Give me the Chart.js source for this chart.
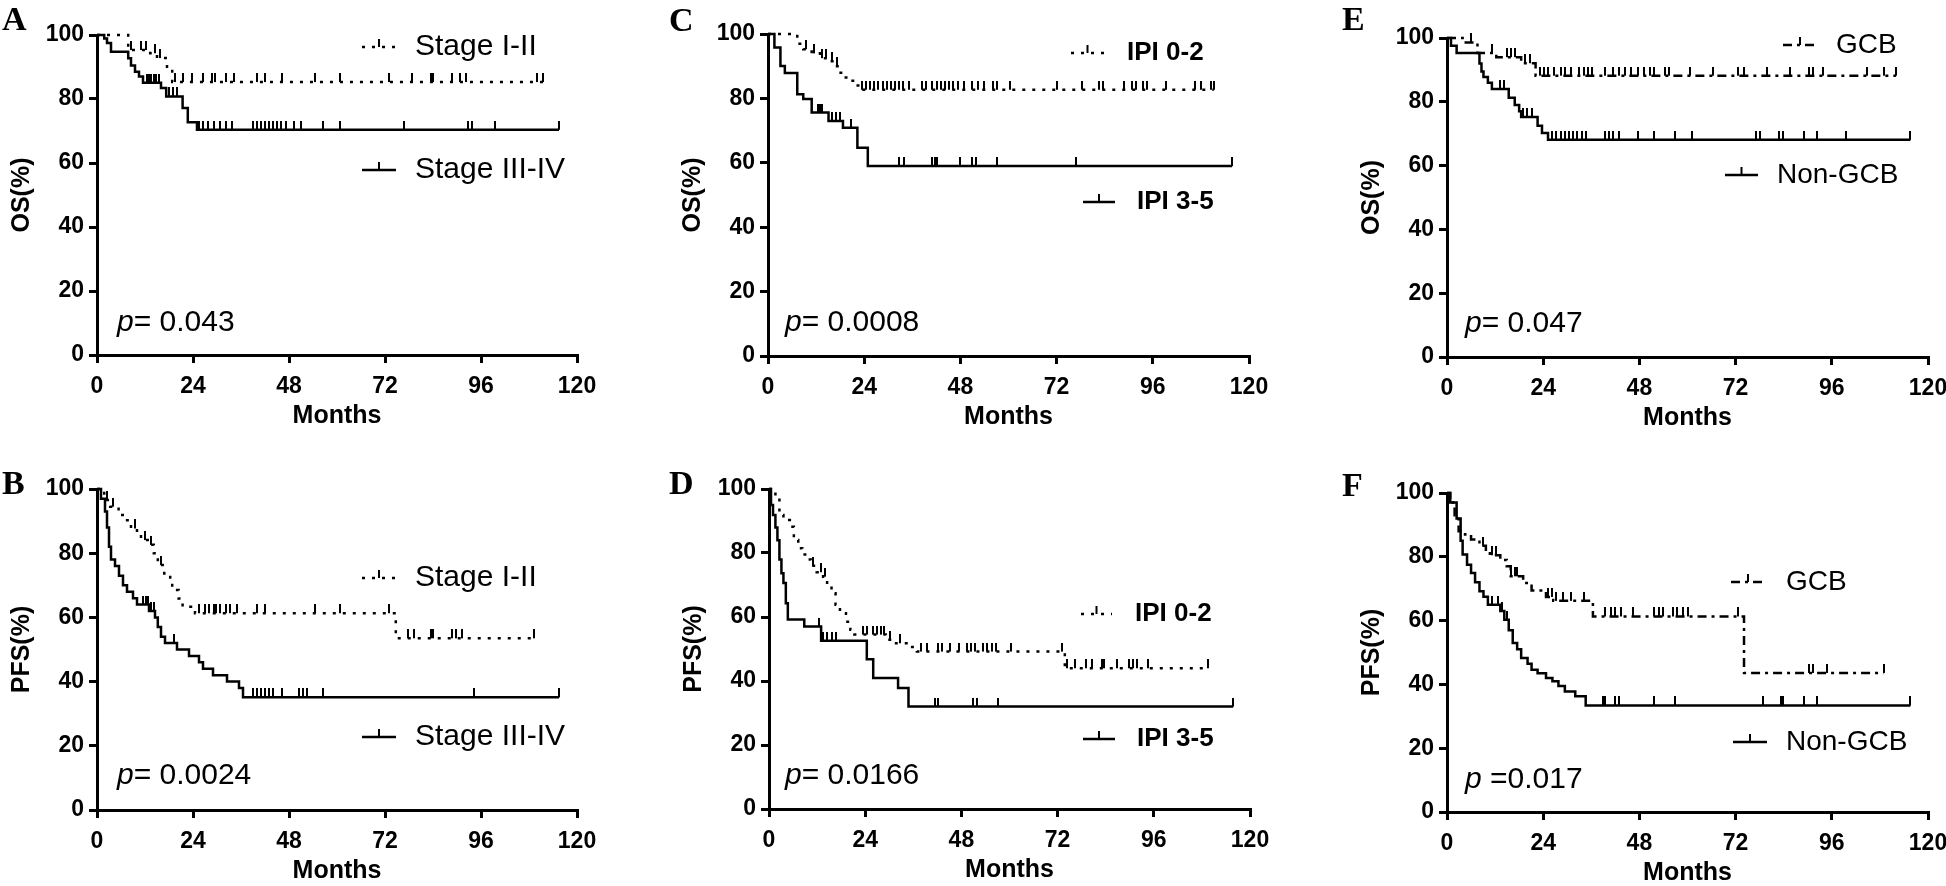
<!DOCTYPE html>
<html>
<head>
<meta charset="utf-8">
<script src="https://cdn.jsdelivr.net/npm/chart.js@4.4.1/dist/chart.umd.min.js"></script>
<style>
html, body { margin: 0; padding: 0; background: #fff; }
#fig { position: relative; width: 1946px; height: 886px; overflow: hidden; }
.cell { position: absolute; }
</style>
</head>
<body>
<div id="fig"></div>
<script>
// Axis ticks
const monthTicks = [0, 24, 48, 72, 96, 120];
const percentTicks = [0, 20, 40, 60, 80, 100];

// A: OS by stage (time in months, survival in %)
const osStageEarlyT = [0, 7.8, 13.3, 15, 17.5, 18.8, 111.5];
const osStageEarlyS = [100, 95.3, 94.3, 92.8, 89.6, 85.3, 85.3];
const osStageEarlyC = [8.5, 11, 12.2, 14.5, 15.8, 19.5, 21.4, 23.7, 26.6, 28.7, 29.5, 32.3, 34.3, 40, 42.1, 46.2, 54.5, 60.7, 73.1, 78.8, 83.5, 84, 88.7, 90.7, 92.3, 109.9, 111.4];
const osStageLateT = [0, 1.8, 2.5, 3.5, 7.8, 8.5, 9.5, 10.5, 11.5, 16, 17.3, 21.4, 22.7, 25, 115.5];
const osStageLateS = [100, 98.9, 97.5, 94.8, 92.7, 90.5, 88.5, 87, 85.1, 83.4, 80.8, 77.2, 72.7, 70.4, 70.4];
const osStageLateC = [12.5, 13, 13.6, 14.2, 14.8, 15.4, 18, 19, 20, 25.6, 26.6, 27.7, 29.2, 30.7, 32.3, 33.8, 39, 40, 41, 42, 43, 44, 45, 46, 47.2, 49.3, 50.9, 56.6, 60.7, 76.8, 92.8, 93.8, 99.5, 115.5];

// B: PFS by stage
const pfsStageEarlyT = [0, 1.8, 3.3, 5.4, 6.9, 8.5, 10, 11, 13.1, 14.2, 15.2, 16.8, 18.3, 18.8, 20.4, 21.4, 23.5, 24.5, 74.7, 109.3];
const pfsStageEarlyS = [100, 96.6, 94.5, 91.9, 90.3, 87.7, 85.7, 84.1, 82.6, 80, 76.3, 73.7, 71.7, 68.5, 65.9, 63.3, 62.3, 61.3, 53.5, 53.5];
const pfsStageEarlyC = [2.5, 4, 9.5, 12, 13.5, 16, 25.5, 27.1, 28.1, 29.2, 29.7, 30.7, 32.3, 33.3, 34.9, 40, 42.1, 54.5, 60.7, 73.1, 77.8, 79.3, 83.5, 84, 88.7, 89.7, 91.2, 109.3];
const pfsStageLateT = [0, 1, 2, 2.5, 3, 3.5, 4.5, 5.5, 6.5, 7.5, 9, 10, 13, 14.5, 15.2, 16, 17, 20, 23, 25.5, 26.5, 29, 32.5, 35.5, 36.5, 115.5];
const pfsStageLateS = [100, 97, 93, 88, 82, 78, 76, 73, 70, 68, 66, 64, 62, 60, 57, 54, 52, 50, 48, 46, 44, 42, 40, 38, 35.1, 35.1];
const pfsStageLateC = [11.5, 12.2, 12.8, 13.6, 14.2, 19.2, 39, 40, 41, 42, 43, 44, 46.2, 50.4, 51.5, 52.4, 56.6, 94.3, 115.5];

// C: OS by IPI
const osIpiLowT = [0, 7.3, 8.8, 10.9, 13, 15.1, 16.6, 17.7, 18.7, 20.3, 21.8, 22.9, 111.2];
const osIpiLowS = [100, 97, 95.3, 94, 92.5, 91.5, 90, 88, 86.5, 85.5, 84, 82.7, 82.7];
const osIpiLowC = [9.5, 11.5, 13.5, 14.5, 16, 17.2, 23.4, 24.4, 25.5, 26.5, 27.5, 28.6, 29.6, 30.6, 31.7, 32.7, 33.8, 35.3, 38.4, 39.5, 41, 42.1, 43.1, 44.2, 45.2, 46.2, 47.3, 48.8, 50.9, 52.5, 54, 56.1, 57.1, 60.3, 72.2, 78.4, 82.6, 83.6, 88.8, 90.9, 91.9, 93.5, 94.5, 99.2, 106.5, 108.1, 110.6, 111.2];
const osIpiHighT = [0, 1.6, 3.1, 4.2, 7.3, 8.8, 10.9, 15.1, 18.7, 22.3, 24.9, 115.8];
const osIpiHighS = [100, 95.8, 90.1, 87.9, 81.3, 79.8, 75.6, 73, 70.9, 64.7, 59, 59];
const osIpiHighC = [12.5, 13, 13.5, 16, 17, 18, 20.8, 32.7, 34, 41, 41.6, 42.1, 47.8, 50.9, 51.9, 57.1, 76.9, 115.8];

// D: PFS by IPI
const pfsIpiLowT = [0, 1.6, 2.6, 3.6, 5.2, 6.2, 7.3, 8.3, 9.4, 10.4, 11.9, 13.5, 14.5, 15.6, 16.6, 17.7, 19.2, 20.3, 21.3, 29.1, 31.7, 34.8, 36.9, 73.8, 109.6];
const pfsIpiLowS = [100, 97.1, 91.9, 90.3, 88.2, 84.1, 81.5, 79.5, 78, 76, 74, 72.6, 70, 67.4, 63.8, 61.2, 58.5, 56, 54.5, 52.9, 51.8, 50.6, 49.2, 44, 44];
const pfsIpiLowC = [11, 13, 14, 23.4, 24.4, 26, 27, 28, 28.6, 30.1, 32.7, 37.9, 39.5, 42.1, 43.1, 45.2, 47.3, 49.4, 50.4, 51.4, 53.5, 54.5, 55.6, 56.6, 60.3, 73.2, 74.3, 76.4, 79, 80.5, 83.1, 83.6, 86.8, 89.9, 90.9, 91.9, 94.5, 109.6];
const pfsIpiHighT = [0, 0.5, 1, 1.6, 2.1, 2.6, 3.1, 3.6, 4.2, 4.7, 8.8, 13, 24.4, 26, 32.2, 34.8, 115.8];
const pfsIpiHighS = [100, 95, 91.9, 88, 84, 78, 73.7, 70.6, 64.3, 59.2, 57, 52.6, 46.8, 40.9, 37.8, 32, 32];
const pfsIpiHighC = [12.5, 13.5, 14.5, 15.6, 16.6, 41.4, 42.1, 50.9, 51.9, 57.1, 115.8];

// E: OS by cell of origin
const osGcbT = [0, 3.9, 7.6, 12.3, 18.5, 22.1, 112];
const osGcbS = [100, 98.6, 95.3, 94, 92.1, 88.2, 88.2];
const osGcbC = [6, 11.2, 14.9, 15.9, 16.9, 19.5, 20.6, 23.2, 24.2, 25.2, 26.8, 28.4, 29.4, 31, 33, 34.1, 35.1, 36.2, 39.3, 41.4, 42.9, 44.5, 46, 47.6, 49.1, 50.7, 51.7, 54.3, 55.4, 60.6, 66.3, 72.5, 74.1, 79.8, 85.5, 90.2, 91.2, 93.8, 104.7, 108.9, 112];
const osNonGcbT = [0, 1, 2.4, 8.1, 8.6, 9.1, 10.2, 11.2, 15.4, 16.9, 18, 18.5, 22.6, 23.7, 25.2, 115.6];
const osNonGcbS = [100, 97.6, 95.3, 92, 89.5, 87.8, 86, 84, 81.3, 79, 77, 75.2, 72.5, 70.2, 68.1, 68.1];
const osNonGcbC = [13.3, 14.3, 19, 20, 21.1, 26.3, 27.3, 28.4, 29.4, 30.4, 31.5, 32.5, 33.6, 34.6, 39.3, 40.3, 41.4, 42.9, 47.6, 51.7, 56.9, 61.1, 77.2, 78.2, 82.9, 83.9, 89.1, 92.3, 99.5, 115.6];

// F: PFS by cell of origin
const pfsGcbT = [0, 0.8, 1.9, 2.9, 4.5, 6, 8.1, 9.7, 10.7, 13.3, 14.9, 15.9, 19, 21.1, 24.7, 26.5, 36.4, 74.1, 108.9];
const pfsGcbS = [100, 97, 93, 88, 87, 85.4, 83.5, 81.7, 80.5, 79, 77, 73.9, 71.8, 69.4, 67.4, 66.2, 61.3, 43.6, 43.6];
const pfsGcbC = [9.1, 11.2, 12.3, 15.9, 16.9, 17.5, 25.2, 26.3, 27.3, 28.9, 31, 34.1, 39.3, 40.8, 41.9, 43.4, 46.5, 51.7, 52.8, 53.8, 56.4, 57.5, 59, 60, 72.5, 90.2, 91.2, 94.9, 108.9];
const pfsNonGcbT = [0, 0.8, 2.4, 3.4, 3.9, 5, 6, 7, 8.1, 9.1, 10.2, 13.3, 14.3, 15.4, 16.4, 17.5, 18.5, 20.1, 21.1, 22.6, 24.7, 26.3, 27.8, 29.4, 32, 34.6, 115.6];
const pfsNonGcbS = [100, 97, 92, 85, 80.7, 77.5, 74.9, 72, 69.2, 67.5, 65, 63, 60.3, 57, 53, 51, 48.3, 46.5, 44.6, 43.5, 42, 41, 39.5, 37.8, 36.3, 33.4, 33.4];
const pfsNonGcbC = [11.2, 12.8, 13.8, 14.9, 38.8, 39.3, 41.9, 42.9, 51.7, 56.9, 78.8, 83.4, 83.9, 89.1, 92.3, 115.6];

const SANS = '"Liberation Sans", Arial, sans-serif';
const SERIF = '"Liberation Serif", "Times New Roman", serif';
const YW = 60, XH = 40;   // fixed widths of the y and x scale boxes
const DASH = { dotted: [3, 7], solid: [], dashdot: [9, 5, 3, 5] };

// cell = [left, top, width, height], area = [left, top, right, bottom] of the plot, page pixels
const panels = [
    { letter: "A", cell: [0, 0, 650, 443], area: [97, 35, 577, 355], yTitle: "OS(%)",
      letterPos: [2, 30], p: ["p", "= 0.043"], pPos: [117, 323],
      series: [
          { t: osStageEarlyT, s: osStageEarlyS, c: osStageEarlyC, style: "dotted", label: "Stage I-II", sym: [362, 396], tx: 415, ty: 47 },
          { t: osStageLateT, s: osStageLateS, c: osStageLateC, style: "solid", label: "Stage III-IV", sym: [362, 396], tx: 415, ty: 170 }
      ] },
    { letter: "B", cell: [0, 443, 650, 443], area: [97, 489, 577, 810], yTitle: "PFS(%)",
      letterPos: [2, 494], p: ["p", "= 0.0024"], pPos: [117, 776],
      series: [
          { t: pfsStageEarlyT, s: pfsStageEarlyS, c: pfsStageEarlyC, style: "dotted", label: "Stage I-II", sym: [362, 396], tx: 415, ty: 578 },
          { t: pfsStageLateT, s: pfsStageLateS, c: pfsStageLateC, style: "solid", label: "Stage III-IV", sym: [362, 396], tx: 415, ty: 737 }
      ] },
    { letter: "C", cell: [650, 0, 646, 443], area: [768, 34, 1249, 356], yTitle: "OS(%)",
      letterPos: [669, 31], p: ["p", "= 0.0008"], pPos: [785, 323], bold: true,
      series: [
          { t: osIpiLowT, s: osIpiLowS, c: osIpiLowC, style: "dotted", label: "IPI 0-2", sym: [1071, 1104], tx: 1127, ty: 53 },
          { t: osIpiHighT, s: osIpiHighS, c: osIpiHighC, style: "solid", label: "IPI 3-5", sym: [1083, 1115], tx: 1137, ty: 202 }
      ] },
    { letter: "D", cell: [650, 443, 646, 443], area: [769, 489, 1250, 809], yTitle: "PFS(%)",
      letterPos: [669, 494], p: ["p", "= 0.0166"], pPos: [785, 776], bold: true,
      series: [
          { t: pfsIpiLowT, s: pfsIpiLowS, c: pfsIpiLowC, style: "dotted", label: "IPI 0-2", sym: [1081, 1112], tx: 1135, ty: 614 },
          { t: pfsIpiHighT, s: pfsIpiHighS, c: pfsIpiHighC, style: "solid", label: "IPI 3-5", sym: [1083, 1115], tx: 1137, ty: 739 }
      ] },
    { letter: "E", cell: [1296, 0, 650, 443], area: [1447, 38, 1928, 357], yTitle: "OS(%)",
      letterPos: [1342, 30], p: ["p", "= 0.047"], pPos: [1465, 324],
      series: [
          { t: osGcbT, s: osGcbS, c: osGcbC, style: "dashdot", label: "GCB", sym: [1783, 1817], tx: 1836, ty: 45 },
          { t: osNonGcbT, s: osNonGcbS, c: osNonGcbC, style: "solid", label: "Non-GCB", sym: [1725, 1758], tx: 1777, ty: 175 }
      ] },
    { letter: "F", cell: [1296, 443, 650, 443], area: [1447, 493, 1928, 812], yTitle: "PFS(%)",
      letterPos: [1342, 496], p: ["p", " =0.017"], pPos: [1465, 780],
      series: [
          { t: pfsGcbT, s: pfsGcbS, c: pfsGcbC, style: "dashdot", label: "GCB", sym: [1731, 1765], tx: 1786, ty: 582 },
          { t: pfsNonGcbT, s: pfsNonGcbS, c: pfsNonGcbC, style: "solid", label: "Non-GCB", sym: [1733, 1767], tx: 1786, ty: 742 }
      ] }
];

function kmPoints(t, s) {
    return t.map((v, i) => ({ x: v, y: s[i] }));
}

// survival value of the step curve at a censoring time
function survivalAt(t, s, time) {
    let v = s[0];
    for (let i = 0; i < t.length; i++) {
        if (t[i] <= time) v = s[i];
    }
    return v;
}

function censorPoints(t, s, c) {
    return c.map(time => ({ x: time, y: survivalAt(t, s, time) }));
}

// censor mark: short vertical tick standing on the curve
const tickMark = (() => {
    const c = document.createElement("canvas");
    c.width = 2; c.height = 18;
    const g = c.getContext("2d");
    g.fillStyle = "#000";
    g.fillRect(0, 0, 2, 9);
    return c;
})();

// panel letter, axis titles, p value and legend
const panelText = {
    id: "panelText",
    afterDraw(chart, args, opts) {
        const pn = opts.panel;
        if (!pn) return;
        const ctx = chart.ctx;
        const [cx, cy] = pn.cell;
        const [l, t, r, b] = pn.area;
        ctx.save();
        ctx.fillStyle = "#000";
        ctx.strokeStyle = "#000";

        ctx.font = "bold 34px " + SERIF;
        ctx.textAlign = "left";
        ctx.textBaseline = "alphabetic";
        ctx.fillText(pn.letter, pn.letterPos[0] - cx, pn.letterPos[1] - cy);

        ctx.font = "bold 25px " + SANS;
        ctx.textAlign = "center";
        ctx.textBaseline = "middle";
        ctx.fillText("Months", (l + r) / 2 - cx, b + 61 - cy);

        ctx.save();
        ctx.translate(l - 75 - cx, (t + b) / 2 - cy);
        ctx.rotate(-Math.PI / 2);
        ctx.fillText(pn.yTitle, 0, 0);
        ctx.restore();

        // p value, italic p
        ctx.textAlign = "left";
        ctx.font = "italic 30px " + SANS;
        const px = pn.pPos[0] - cx, py = pn.pPos[1] - cy;
        ctx.fillText(pn.p[0], px, py);
        const w = ctx.measureText(pn.p[0]).width;
        ctx.font = "30px " + SANS;
        ctx.fillText(pn.p[1], px + w, py);

        // legend entries
        pn.series.forEach(sr => {
            const y = sr.ty - cy;
            ctx.lineWidth = 2.5;
            ctx.setLineDash(DASH[sr.style]);
            ctx.beginPath();
            ctx.moveTo(sr.sym[0] - cx, y);
            ctx.lineTo(sr.sym[1] - cx, y);
            ctx.stroke();
            ctx.setLineDash([]);
            const mx = (sr.sym[0] + sr.sym[1]) / 2 - cx;
            ctx.lineWidth = 2;
            ctx.beginPath();
            ctx.moveTo(mx, y - 8);
            ctx.lineTo(mx, y);
            ctx.stroke();
            ctx.font = (pn.bold ? "bold 26px " : "30px ") + SANS;
            if (pn.letter === "E" || pn.letter === "F") ctx.font = "28px " + SANS;
            ctx.fillText(sr.label, sr.tx - cx, y);
        });
        ctx.restore();
    }
};

const fig = document.getElementById("fig");

panels.forEach(pn => {
    const [cx, cy, cw, ch] = pn.cell;
    const [l, t, r, b] = pn.area;

    const div = document.createElement("div");
    div.className = "cell";
    div.style.left = cx + "px";
    div.style.top = cy + "px";
    div.style.width = cw + "px";
    div.style.height = ch + "px";
    const cv = document.createElement("canvas");
    cv.width = cw;
    cv.height = ch;
    div.appendChild(cv);
    fig.appendChild(div);

    const datasets = [];
    pn.series.forEach(sr => {
        datasets.push({
            type: "line",
            data: kmPoints(sr.t, sr.s),
            stepped: "before",
            borderColor: "#000",
            borderWidth: 2.5,
            borderDash: DASH[sr.style],
            pointRadius: 0,
            fill: false,
            clip: 8
        });
        datasets.push({
            type: "scatter",
            data: censorPoints(sr.t, sr.s, sr.c),
            showLine: false,
            pointStyle: tickMark,
            pointRadius: 5,
            clip: 12
        });
    });

    const tickFont = { family: SANS, size: 23, weight: "bold" };

    new Chart(cv, {
        type: "line",
        data: { datasets },
        options: {
            responsive: false,
            animation: false,
            devicePixelRatio: 1,
            layout: {
                padding: {
                    left: l - cx - YW,
                    top: t - cy,
                    right: cx + cw - r,
                    bottom: cy + ch - b - XH
                }
            },
            scales: {
                x: {
                    type: "linear",
                    min: monthTicks[0],
                    max: monthTicks[monthTicks.length - 1],
                    afterBuildTicks: sc => { sc.ticks = monthTicks.map(v => ({ value: v })); },
                    afterFit: sc => { sc.height = XH; sc.paddingLeft = 0; sc.paddingRight = 0; },
                    ticks: { color: "#000", font: tickFont, padding: 10, maxRotation: 0, autoSkip: false },
                    grid: { drawOnChartArea: false, drawTicks: true, tickLength: 8, color: "#000", lineWidth: 3 },
                    border: { color: "#000", width: 3 }
                },
                y: {
                    type: "linear",
                    min: percentTicks[0],
                    max: percentTicks[percentTicks.length - 1],
                    afterBuildTicks: sc => { sc.ticks = percentTicks.map(v => ({ value: v })); },
                    afterFit: sc => { sc.width = YW; sc.paddingTop = 0; sc.paddingBottom = 0; },
                    ticks: { color: "#000", font: tickFont, padding: 5, autoSkip: false },
                    grid: { drawOnChartArea: false, drawTicks: true, tickLength: 8, color: "#000", lineWidth: 3 },
                    border: { color: "#000", width: 3 }
                }
            },
            plugins: {
                legend: { display: false },
                tooltip: { enabled: false },
                panelText: { panel: pn }
            }
        },
        plugins: [panelText]
    });
});
</script>
</body>
</html>
